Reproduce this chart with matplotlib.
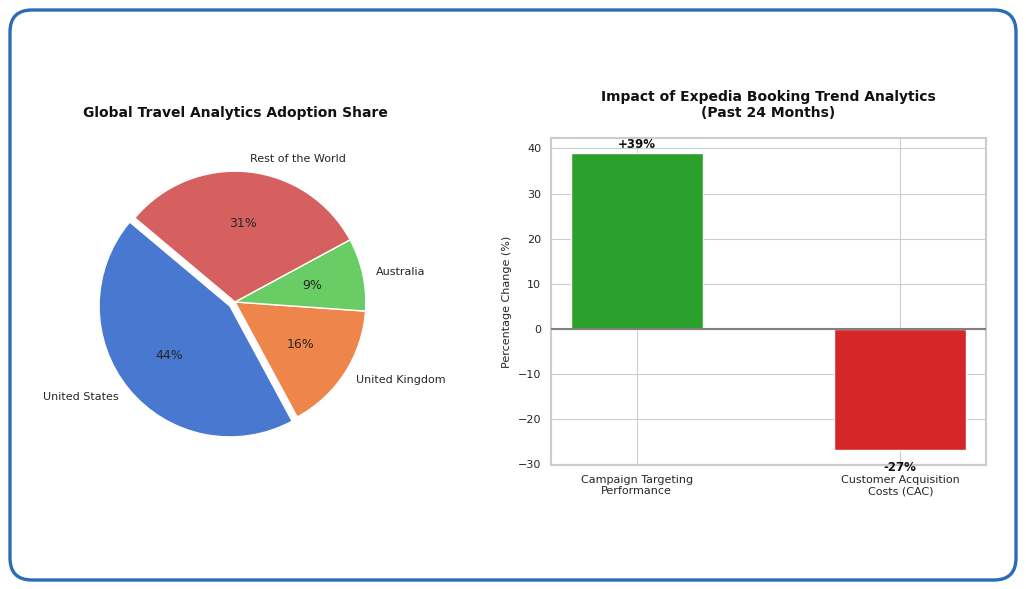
import matplotlib
matplotlib.use("Agg")
import matplotlib.pyplot as plt
import seaborn as sns
from matplotlib.patches import FancyBboxPatch


REGIONS = ["United States", "United Kingdom", "Australia", "Rest of the World"]
REGION_SHARE = [44, 16, 9, 31]
EXPLODE = [0.05, 0, 0, 0]

METRICS = ["Campaign Targeting\nPerformance", "Customer Acquisition\nCosts (CAC)"]
METRIC_CHANGE = [39, -27]
METRIC_LABELS = ["+39%", "-27%"]

PIE_TITLE = "Global Travel Analytics Adoption Share"
BAR_TITLE = "Impact of Expedia Booking Trend Analytics\n(Past 24 Months)"


def draw_border(fig):
    # rounded blue frame round the whole picture, drawn in inches
    w, h = fig.get_size_inches()
    box = FancyBboxPatch(
        (0.10, 0.09), w - 0.20, h - 0.19,
        boxstyle="round,pad=0,rounding_size=0.22",
        transform=fig.dpi_scale_trans,
        facecolor="none", edgecolor="#2a6db5", linewidth=2.4, zorder=5,
    )
    fig.patches.append(box)


def draw_pie(ax):
    colors = sns.color_palette("muted")
    pie_colors = [colors[0], colors[1], colors[2], colors[3]]
    _, _, autotexts = ax.pie(
        REGION_SHARE,
        labels=REGIONS,
        colors=pie_colors,
        explode=EXPLODE,
        startangle=140,
        autopct="%1.0f%%",
        wedgeprops={"edgecolor": "white", "linewidth": 1},
        textprops={"fontsize": 8, "color": "#262626"},
    )
    for t in autotexts:
        t.set_fontsize(9)
    ax.set_aspect("equal")
    ax.set_title(PIE_TITLE, fontsize=10, fontweight="bold", pad=15.5, color="#111111")


def draw_bars(ax):
    x = list(range(len(METRICS)))
    ax.bar(x, METRIC_CHANGE, width=0.5, color=["#2ca02c", "#d62728"], zorder=2)
    ax.axhline(0, color="#808080", linewidth=1.5, zorder=3)
    for xi, v, lab in zip(x, METRIC_CHANGE, METRIC_LABELS):
        if v >= 0:
            ax.text(xi, v + 0.5, lab, ha="center", va="bottom", fontsize=8.5,
                    fontweight="bold", color="#111111")
        else:
            ax.text(xi, v - 2.4, lab, ha="center", va="top", fontsize=8.5,
                    fontweight="bold", color="#111111")
    ax.set_xticks(x)
    ax.set_xticklabels(METRICS, fontsize=8)
    ax.tick_params(axis="y", labelsize=8)
    ax.set_yticks([-30, -20, -10, 0, 10, 20, 30, 40])
    ax.set_ylabel("Percentage Change (%)", fontsize=8)
    ax.set_title(BAR_TITLE, fontsize=10, fontweight="bold", pad=15.3, color="#111111")
    for s in ax.spines.values():
        s.set_color("#cccccc")
        s.set_linewidth(1.5)


def main():
    sns.set_style("whitegrid")
    plt.rcParams["font.family"] = ["DejaVu Sans"]
    fig = plt.figure(figsize=(10.26, 5.89), dpi=100)
    fig.patch.set_facecolor("white")
    draw_border(fig)

    ax_pie = fig.add_axes([0.0697, 0.2097, 0.3187, 0.5552])
    draw_pie(ax_pie)

    ax_bar = fig.add_axes([0.537, 0.2105, 0.424, 0.555])
    draw_bars(ax_bar)

    fig.savefig("out.png", dpi=100)


if __name__ == "__main__":
    main()
